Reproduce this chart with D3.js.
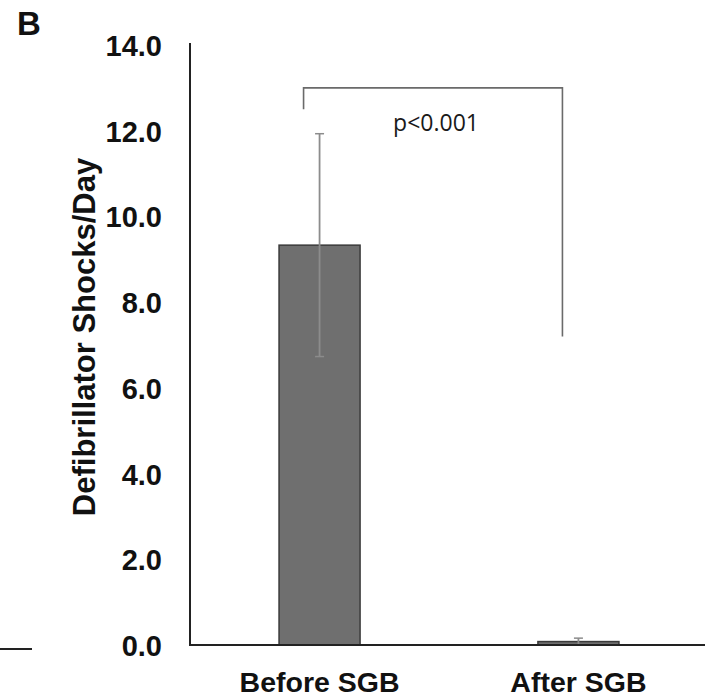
<!DOCTYPE html>
<html>
<head>
<meta charset="utf-8">
<script src="https://cdn.jsdelivr.net/npm/d3@7/dist/d3.min.js"></script>
<style>
  html, body { margin: 0; padding: 0; background: #fff; }
  svg { display: block; }
</style>
</head>
<body>
<svg id="chart" width="705" height="700"></svg>
<script>
// ---- data ----
const categories = ["Before SGB", "After SGB"];
const means = [9.33, 0.08];
const errors = [2.6, 0.08];
const yTicks = [0, 2, 4, 6, 8, 10, 12, 14];
const yLabel = "Defibrillator Shocks/Day";
const panelLabel = "B";
const pText = "p<0.001";
const bracketTop = [13.0];
const bracketEnds = [12.5, 7.2];

// ---- layout ----
const svg = d3.select("#chart");
const x0 = 190, yBase = 645, yTop = 45;

const y = d3.scaleLinear().domain([0, 14]).range([yBase, yTop]);
const x = d3.scaleBand().domain(categories).range([x0, 708])
  .paddingInner(0.687).paddingOuter(0.344);

const boldFont = "'Liberation Sans', Arial, sans-serif";

// panel label
svg.append("text").attr("x", 17).attr("y", 35)
  .attr("font-family", boldFont).attr("font-weight", "bold")
  .attr("font-size", 33).attr("fill", "#111").text(panelLabel);

// y axis
const yAxis = d3.axisLeft(y).tickValues(yTicks).tickFormat(d3.format(".1f"))
  .tickSize(0).tickPadding(28);
const gy = svg.append("g").attr("transform", `translate(${x0},0)`).call(yAxis);
gy.select(".domain").remove();
gy.selectAll("text").attr("font-family", boldFont).attr("font-weight", "bold")
  .attr("font-size", 29).attr("fill", "#111").attr("dy", "0.36em");
svg.append("line").attr("x1", x0).attr("x2", x0).attr("y1", yTop - 2).attr("y2", yBase + 1)
  .attr("stroke", "#222").attr("stroke-width", 2);

// y label
svg.append("text")
  .attr("transform", `translate(95, ${(yTop + yBase) / 2 - 8}) rotate(-90)`)
  .attr("text-anchor", "middle")
  .attr("font-family", boldFont).attr("font-weight", "bold")
  .attr("font-size", 31).attr("fill", "#111").text(yLabel);

// bars
svg.selectAll("rect.bar").data(categories).enter().append("rect")
  .attr("class", "bar")
  .attr("x", d => x(d))
  .attr("width", x.bandwidth())
  .attr("y", (d, i) => y(means[i]))
  .attr("height", (d, i) => yBase - y(means[i]))
  .attr("fill", "#6f6f6f").attr("stroke", "#3a3a3a").attr("stroke-width", 1.5);

// error bars
const eg = svg.selectAll("g.err").data(categories).enter().append("g").attr("class", "err");
eg.append("line")
  .attr("x1", d => x(d) + x.bandwidth() / 2).attr("x2", d => x(d) + x.bandwidth() / 2)
  .attr("y1", (d, i) => y(means[i] - errors[i])).attr("y2", (d, i) => y(means[i] + errors[i]))
  .attr("stroke", "#8c8c8c").attr("stroke-width", 1.8);
eg.selectAll("line.cap").data((d, i) => [[d, means[i] - errors[i]], [d, means[i] + errors[i]]])
  .enter().append("line").attr("class", "cap")
  .attr("x1", d => x(d[0]) + x.bandwidth() / 2 - 4.5).attr("x2", d => x(d[0]) + x.bandwidth() / 2 + 4.5)
  .attr("y1", d => y(d[1])).attr("y2", d => y(d[1]))
  .attr("stroke", "#8c8c8c").attr("stroke-width", 1.5);

// x axis baseline
svg.append("line").attr("x1", x0 - 1).attr("x2", 705).attr("y1", yBase).attr("y2", yBase)
  .attr("stroke", "#222").attr("stroke-width", 2);
// stray tick at left
svg.append("line").attr("x1", 0).attr("x2", 32).attr("y1", yBase + 4).attr("y2", yBase + 4)
  .attr("stroke", "#222").attr("stroke-width", 2);

// x labels
svg.selectAll("text.xl").data(categories).enter().append("text").attr("class", "xl")
  .attr("x", d => x(d) + x.bandwidth() / 2).attr("y", 692)
  .attr("text-anchor", "middle")
  .attr("font-family", boldFont).attr("font-weight", "bold")
  .attr("font-size", 28.5).attr("fill", "#111").text(d => d);

// significance bracket
const bx = categories.map(d => x(d) + x.bandwidth() / 2 - 16);
const path = d3.path();
path.moveTo(bx[0], y(bracketEnds[0]));
path.lineTo(bx[0], y(bracketTop[0]));
path.lineTo(bx[1], y(bracketTop[0]));
path.lineTo(bx[1], y(bracketEnds[1]));
svg.append("path").attr("d", path.toString()).attr("fill", "none")
  .attr("stroke", "#6a6a6a").attr("stroke-width", 1.6);

svg.append("text").attr("x", (bx[0] + bx[1]) / 2 + 3).attr("y", 131)
  .attr("text-anchor", "middle")
  .attr("font-family", "'Open Sans', 'Noto Sans', sans-serif")
  .attr("font-size", 23).attr("fill", "#1a1a1a").text(pText);
</script>
</body>
</html>
